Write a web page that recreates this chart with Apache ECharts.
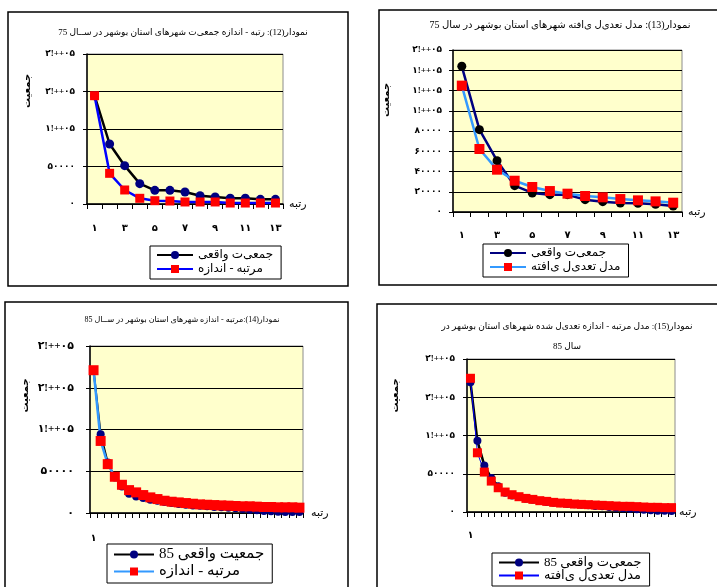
<!DOCTYPE html>
<html><head><meta charset="utf-8">
<script src="https://cdn.jsdelivr.net/npm/echarts/dist/echarts.min.js"></script>
<style>html,body{margin:0;padding:0;background:#fff}#c{width:717px;height:587px}</style>
</head><body><div id="c"></div><script>
// ---------- data ----------
const ranks13 = ['۱','۲','۳','۴','۵','۶','۷','۸','۹','۱۰','۱۱','۱۲','۱۳'];
const ranks30 = ['۱','۲','۳','۴','۵','۶','۷','۸','۹','۱۰','۱۱','۱۲','۱۳','۱۴','۱۵','۱۶','۱۷','۱۸','۱۹','۲۰','۲۱','۲۲','۲۳','۲۴','۲۵','۲۶','۲۷','۲۸','۲۹','۳۰'];

const yTicks200k = ['۰','۵۰۰۰۰','۱!++۰۵','۲!++۰۵','۲!++۰۵'];
const yTicks160k = ['۰','۲۰۰۰۰','۴۰۰۰۰','۶۰۰۰۰','۸۰۰۰۰','۱!++۰۵','۱!++۰۵','۱!++۰۵','۲!++۰۵'];

// chart 12 (year 75)
const actual75_c12 = [144400, 80000, 51100, 27100, 18200, 18200, 16000, 11100, 9300, 7600, 7600, 6200, 6200];
const rankSize75_c12 = [144400, 40900, 18700, 7600, 4400, 4000, 2700, 2700, 2700, 1300, 1300, 1300, 1300];
// chart 13 (year 75)
const actual75_c13 = [143900, 81300, 50700, 26000, 18800, 17100, 17100, 12200, 10200, 8900, 8600, 7600, 5900];
const adjusted75_c13 = [124800, 62200, 41800, 30900, 24700, 20700, 18100, 15800, 14500, 12800, 11500, 10500, 9200];
// chart 14 (year 85)
const actual85_c14 = [171000, 94300, 60500, 42600, 31800, 23100, 19900, 17900, 15900, 14700, 13100, 11900, 10700, 9900, 9100, 8800, 8000, 7200, 6800, 6400, 5600, 4800, 4000, 3200, 2400, 2000, 1600, 1200, 1200, 1200];
const rankSize85_c14 = [171000, 86300, 58500, 43400, 33800, 27400, 24700, 21500, 18700, 16700, 14700, 13500, 12700, 11900, 11100, 10300, 9900, 9500, 9100, 8800, 8400, 8000, 8000, 7600, 7200, 7200, 6800, 6800, 6800, 6400];
// chart 15 (year 85)
const actual85_c15 = [169600, 93000, 60900, 44300, 33500, 25200, 21700, 19600, 17400, 16100, 14300, 13000, 12200, 11300, 10400, 10000, 9600, 8700, 7800, 7400, 6500, 5700, 4800, 4300, 3500, 3000, 2200, 1700, 1700, 1300];
const adjusted85_c15 = [174800, 77400, 52200, 40400, 31700, 26100, 22600, 20000, 17800, 16500, 14800, 13900, 12600, 11700, 11300, 10400, 10000, 9600, 9100, 8700, 8300, 7800, 7400, 7400, 7000, 6500, 6100, 6100, 5700, 5700];

const titles = [
  'نمودار(12): رتبه - اندازه جمعی‌ت شهرهای استان بوشهر در ســال 75',
  'نمودار(13): مدل تعدی‌ل ی‌افته شهرهای استان بوشهر در سال 75',
  'نمودار(14):مرتبه - اندازه شهرهای استان بوشهر در ســال 85',
  'نمودار(15): مدل مرتبه - اندازه تعدی‌ل شده شهرهای استان بوشهر در\nسال 85'
];
const names = {
  a12: 'جمعی‌ت واقعی', m12: 'مرتبه - اندازه',
  a13: 'جمعی‌ت واقعی\u200F', m13: 'مدل تعدی‌ل ی‌افته',
  a14: 'جمعیت واقعی 85', m14: 'مرتبه - اندازه\u200F',
  a15: 'جمعی‌ت واقعی 85\u200F', m15: 'مدل تعدی‌ل ی‌افته\u200F'
};
const yName = 'جمعیت';
const xName = 'رتبه';

// ---------- chart ----------
const FONT = '"Liberation Serif", "DejaVu Sans", serif';
const chart = echarts.init(document.getElementById('c'), null, {renderer: 'canvas'});

const grids = [
  {left: 87, top: 54, width: 196, height: 150},
  {left: 453, top: 50, width: 229, height: 162},
  {left: 90, top: 346, width: 213, height: 167},
  {left: 467, top: 359, width: 208, height: 153}
].map(g => Object.assign(g, {show: true, backgroundColor: '#FFFFCC', borderColor: '#8c8c8c', borderWidth: 1, containLabel: false}));

function xAxis(idx, cats, showAll, nameOpts) {
  return {
    type: 'category', gridIndex: idx, data: cats, boundaryGap: true,
    axisLine: {lineStyle: {color: '#000', width: 1.5}},
    axisTick: {show: true, interval: 0, length: 5, lineStyle: {color: '#000'}},
    axisLabel: {
      interval: showAll ? 1 : (i => i === 0), margin: nameOpts.margin,
      color: '#000', fontSize: 10, fontWeight: 'bold', fontFamily: FONT
    },
    name: xName, nameLocation: 'end', nameGap: nameOpts.gap,
    nameTextStyle: {color: '#000', fontSize: 11, fontFamily: FONT, padding: nameOpts.pad}
  };
}
function yAxis(idx, max, interval, labels, o) {
  return {
    type: 'value', gridIndex: idx, min: 0, max: max, interval: interval,
    axisLine: {show: true, lineStyle: {color: '#000', width: 1.5}},
    axisTick: {show: true, length: 4, lineStyle: {color: '#000'}},
    splitLine: {show: true, lineStyle: {color: '#000', width: 1}},
    axisLabel: {
      formatter: v => labels[Math.round(v / interval)], margin: o.margin,
      color: '#000', fontSize: o.fs, fontWeight: 'bold', fontFamily: FONT
    },
    name: yName, nameLocation: 'middle', nameGap: o.gap, nameRotate: 90,
    nameTextStyle: {color: '#000', fontSize: 10, fontWeight: 'bold', fontFamily: FONT, padding: [0, 0, 0, o.shift]}
  };
}
function line(name, idx, data, lc, lw, mc, sym, ss) {
  return {
    name: name, type: 'line', xAxisIndex: idx, yAxisIndex: idx, data: data,
    symbol: sym, symbolSize: ss, showSymbol: true, showAllSymbol: true,
    lineStyle: {color: lc, width: lw}, itemStyle: {color: mc, borderWidth: 0},
    emphasis: {disabled: true}, animation: false
  };
}
function legend(names, left, top, fs, iw, gap) {
  return {
    data: names, orient: 'vertical', left: left, top: top,
    backgroundColor: '#fff', borderColor: '#000', borderWidth: 1,
    padding: [3, 8, 4, 6], itemGap: gap, itemWidth: iw, itemHeight: 10,
    textStyle: {color: '#000', fontSize: fs, fontFamily: FONT}, selectedMode: false
  };
}
function title(text, left, top, fs, lh) {
  return {text: text, left: left, top: top, textAlign: 'center',
    textStyle: {color: '#000', fontSize: fs, fontWeight: 'normal', fontFamily: FONT, lineHeight: lh}};
}

const option = {
  animation: false,
  backgroundColor: '#fff',
  title: [
    title(titles[0], 178, 21, 9, 14),
    title(titles[1], 555, 13, 10, 14),
    title(titles[2], 177, 309, 8, 12),
    title(titles[3], 562, 312, 9, 20)
  ],
  grid: grids,
  xAxis: [
    xAxis(0, ranks13, true, {margin: 19, gap: 6, pad: [0, 0, 0, 0]}),
    xAxis(1, ranks13, true, {margin: 18, gap: 6, pad: [0, 0, 16, 0]}),
    xAxis(2, ranks30, false, {margin: 20, gap: 8, pad: [0, 0, 34, 0]}),
    xAxis(3, ranks30, false, {margin: 18, gap: 4, pad: [0, 0, 4, 0]})
  ],
  yAxis: [
    yAxis(0, 200000, 50000, yTicks200k, {margin: 12, fs: 9, gap: 55, shift: 76}),
    yAxis(1, 160000, 20000, yTicks160k, {margin: 11, fs: 9, gap: 62, shift: 62}),
    yAxis(2, 200000, 50000, yTicks200k, {margin: 16, fs: 11, gap: 60, shift: 68}),
    yAxis(3, 200000, 50000, yTicks200k, {margin: 12, fs: 9, gap: 67, shift: 80})
  ],
  legend: [
    legend([names.a12, names.m12], 150, 246, 12, 36, 2),
    legend([names.a13, names.m13], 483, 244, 12, 36, 2),
    legend([names.a14, names.m14], 107, 544, 15, 40, 2),
    legend([names.a15, names.m15], 492, 553, 13, 40, 0)
  ],
  graphic: [
    {type: 'rect', shape: {x: 8, y: 12, width: 340, height: 274}, style: {fill: null, stroke: '#000', lineWidth: 1.5}, silent: true},
    {type: 'rect', shape: {x: 379, y: 10, width: 345, height: 275}, style: {fill: null, stroke: '#000', lineWidth: 1.5}, silent: true},
    {type: 'rect', shape: {x: 5, y: 302, width: 343, height: 300}, style: {fill: null, stroke: '#000', lineWidth: 1.5}, silent: true},
    {type: 'rect', shape: {x: 377, y: 304, width: 350, height: 300}, style: {fill: null, stroke: '#000', lineWidth: 1.5}, silent: true}
  ],
  series: [
    line(names.a12, 0, actual75_c12, '#000000', 2.5, '#000080', 'circle', 9),
    line(names.m12, 0, rankSize75_c12, '#0000FF', 2.5, '#FF0000', 'rect', 9),
    line(names.a13, 1, actual75_c13, '#000080', 2.5, '#000000', 'circle', 9),
    line(names.m13, 1, adjusted75_c13, '#3399FF', 2.5, '#FF0000', 'rect', 10),
    line(names.a14, 2, actual85_c14, '#000000', 2, '#000080', 'circle', 8),
    line(names.m14, 2, rankSize85_c14, '#3399FF', 2.5, '#FF0000', 'rect', 10),
    line(names.a15, 3, actual85_c15, '#000000', 2.5, '#000080', 'circle', 8),
    line(names.m15, 3, adjusted85_c15, '#0000FF', 1, '#FF0000', 'rect', 9)
  ]
};
chart.setOption(option);
</script></body></html>
